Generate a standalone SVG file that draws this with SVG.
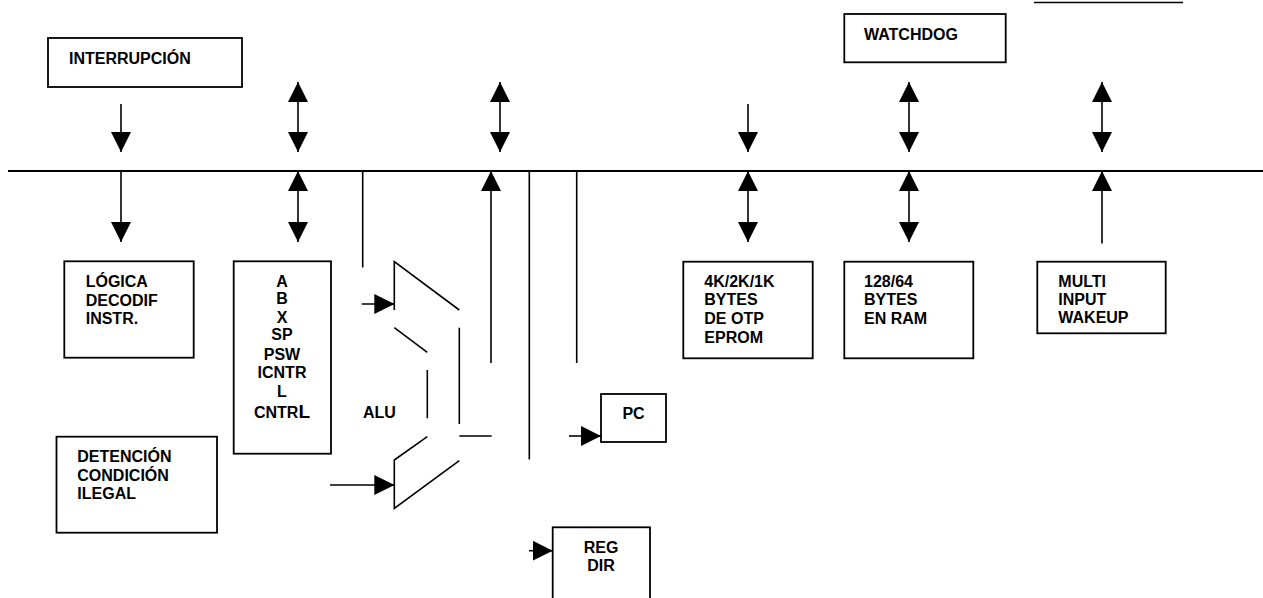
<svg xmlns="http://www.w3.org/2000/svg" width="1263" height="598" viewBox="0 0 1263 598">
<style>
.box{fill:#fff;stroke:#000;stroke-width:1.8}
.ln{stroke:#000;stroke-width:1.6;fill:none}
.bus{stroke:#000;stroke-width:2;fill:none}
.t{font-family:"Liberation Sans",Arial,sans-serif;font-weight:bold;font-size:16px;fill:#000}
.m{text-anchor:middle}
.a{marker-end:url(#ah)}
.d{marker-start:url(#ah);marker-end:url(#ah)}
</style>
<defs>
<marker id="ah" markerUnits="userSpaceOnUse" markerWidth="20" markerHeight="20" viewBox="0 0 20 20" refX="20" refY="10" orient="auto-start-reverse">
<path d="M0,0 L20,10 L0,20 z" fill="#000"/>
</marker>
</defs>
<rect width="1263" height="598" fill="#fff"/>
<g id="connectors">
<line class="bus" x1="8" y1="171" x2="1263" y2="171"/>
<line class="ln" x1="1034" y1="2.5" x2="1183" y2="2.5"/>
<!-- above bus -->
<line class="ln a" x1="121" y1="104" x2="121" y2="152"/>
<line class="ln d" x1="298" y1="82" x2="298" y2="152"/>
<line class="ln d" x1="500" y1="82" x2="500" y2="152"/>
<line class="ln a" x1="748" y1="104" x2="748" y2="152"/>
<line class="ln d" x1="909" y1="82" x2="909" y2="152"/>
<line class="ln d" x1="1102" y1="82" x2="1102" y2="152"/>
<!-- below bus -->
<line class="ln a" x1="121" y1="171" x2="121" y2="242"/>
<line class="ln d" x1="298" y1="171" x2="298" y2="242"/>
<line class="ln" x1="362.7" y1="171" x2="362.7" y2="267.5"/>
<line class="ln a" x1="491" y1="363" x2="491" y2="171"/>
<line class="ln" x1="529.3" y1="171" x2="529.3" y2="459.5"/>
<line class="ln" x1="576.7" y1="171" x2="576.7" y2="363"/>
<line class="ln d" x1="748" y1="171" x2="748" y2="242"/>
<line class="ln d" x1="909" y1="171" x2="909" y2="242"/>
<line class="ln a" x1="1102" y1="243.5" x2="1102" y2="171"/>
<!-- side inputs -->
<line class="ln a" x1="361.7" y1="304" x2="394.3" y2="304"/>
<line class="ln a" x1="330" y1="485" x2="394.3" y2="485"/>
<line class="ln a" x1="569" y1="436" x2="601" y2="436"/>
<line class="ln a" x1="529" y1="550.7" x2="552.7" y2="550.7"/>
</g>
<g id="interrupcion">
<rect class="box" x="48" y="38" width="194" height="49"/>
<text class="t" x="69" y="64">INTERRUPCIÓN</text>
</g>
<g id="watchdog">
<rect class="box" x="844.3" y="14" width="161.4" height="48.3"/>
<text class="t" x="864" y="40">WATCHDOG</text>
</g>
<g id="logica">
<rect class="box" x="64.3" y="261.3" width="129.4" height="96.4"/>
<text class="t" x="85.7" y="286.7">LÓGICA</text>
<text class="t" x="85.7" y="305.7">DECODIF</text>
<text class="t" x="85.7" y="324.3">INSTR.</text>
</g>
<g id="registros">
<rect class="box" x="233.7" y="261.3" width="97.3" height="192.4"/>
<text class="t m" x="282" y="286.7">A</text>
<text class="t m" x="282" y="304">B</text>
<text class="t m" x="282" y="322.7">X</text>
<text class="t m" x="282" y="340">SP</text>
<text class="t m" x="282" y="360">PSW</text>
<text class="t m" x="282" y="378.3">ICNTR</text>
<text class="t m" x="282" y="396.7">L</text>
<text class="t m" x="282" y="418.3">CNTR<tspan font-size="19">L</tspan></text>
</g>
<g id="alu">
<path class="ln" d="M394.3,310 L394.3,261.7 L459.3,310"/>
<path class="ln" d="M394.3,327.7 L427.3,352.3"/>
<path class="ln" d="M427.3,370 L427.3,418.3"/>
<path class="ln" d="M459.3,327.7 L459.3,424"/>
<path class="ln" d="M459.3,436 L491.7,436"/>
<path class="ln" d="M427.3,436.7 L394.3,460 L394.3,508.3 L459.3,460.7"/>
<text class="t" x="363" y="418.3">ALU</text>
</g>
<g id="detencion">
<rect class="box" x="56.5" y="436.7" width="160.5" height="96"/>
<text class="t" x="77.3" y="461.7">DETENCIÓN</text>
<text class="t" x="77.3" y="480.7">CONDICIÓN</text>
<text class="t" x="77.3" y="498.5">ILEGAL</text>
</g>
<g id="pc">
<rect class="box" x="601" y="394" width="65" height="48"/>
<text class="t m" x="633.5" y="419.3">PC</text>
</g>
<g id="regdir">
<rect class="box" x="552.7" y="527.3" width="97.3" height="80"/>
<text class="t m" x="601" y="553.3">REG</text>
<text class="t m" x="601" y="570.7">DIR</text>
</g>
<g id="memoria">
<rect class="box" x="683.3" y="261.7" width="129.4" height="96.6"/>
<text class="t" x="704.3" y="287.3">4K/2K/1K</text>
<text class="t" x="704.3" y="305">BYTES</text>
<text class="t" x="704.3" y="324.3">DE OTP</text>
<text class="t" x="704.3" y="343.3">EPROM</text>
</g>
<g id="ram">
<rect class="box" x="844.3" y="261.7" width="129" height="96.6"/>
<text class="t" x="864" y="287.3">128/64</text>
<text class="t" x="864" y="305">BYTES</text>
<text class="t" x="864" y="324.3">EN RAM</text>
</g>
<g id="wakeup">
<rect class="box" x="1037.3" y="261.7" width="128.4" height="71.6"/>
<text class="t" x="1058.3" y="287.3">MULTI</text>
<text class="t" x="1058.3" y="305">INPUT</text>
<text class="t" x="1058.3" y="322.7">WAKEUP</text>
</g>
</svg>
